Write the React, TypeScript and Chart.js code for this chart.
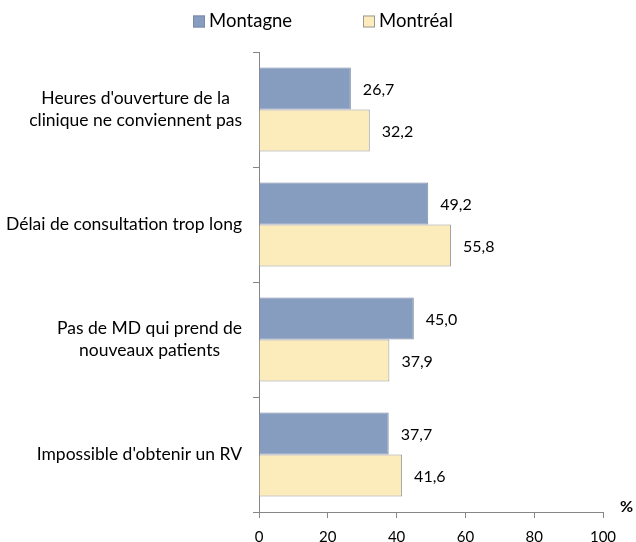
import { useEffect, useRef } from 'react';
import { Chart, registerables } from 'chart.js';

Chart.register(...registerables);

const categories = [
  "Heures d'ouverture de la clinique ne conviennent pas",
  'Délai de consultation trop long',
  'Pas de MD qui prend de nouveaux patients',
  "Impossible d'obtenir un RV",
];
const categoryLines = [
  ["Heures d'ouverture de la", 'clinique ne conviennent pas'],
  ['Délai de consultation trop long'],
  ['Pas de MD qui prend de', 'nouveaux patients'],
  ["Impossible d'obtenir un RV"],
];
const seriesNames = ['Montagne', 'Montréal'];
const montagne = [26.7, 49.2, 45.0, 37.7];
const montreal = [32.2, 55.8, 37.9, 41.6];
const xMin = 0;
const xMax = 100;
const xStep = 20;
const axisUnit = '%';

const FONT = 'Lato, "Open Sans", sans-serif';

const fmt = (v: number) => v.toFixed(1).replace('.', ',');

const labelsPlugin = {
  id: 'customLabels',
  afterDraw(chart: any) {
    const ctx = chart.ctx;
    const yScale = chart.scales.y;
    const xScale = chart.scales.x;
    ctx.save();
    // data labels
    ctx.font = `16px ${FONT}`;
    ctx.fillStyle = '#000';
    ctx.textBaseline = 'middle';
    ctx.textAlign = 'left';
    chart.data.datasets.forEach((ds: any, di: number) => {
      const meta = chart.getDatasetMeta(di);
      meta.data.forEach((el: any, i: number) => {
        ctx.fillText(fmt(ds.data[i]), el.x + 12, el.y + 1);
      });
    });
    // category labels (block right aligned, lines centered)
    ctx.font = `17.5px ${FONT}`;
    ctx.textAlign = 'center';
    const rightX = yScale.right - 17;
    const lh = 22;
    categoryLines.forEach((lines, i) => {
      const cy = yScale.getPixelForValue(i);
      const w = Math.max(...lines.map((l) => ctx.measureText(l).width));
      const cx = rightX - w / 2;
      const y0 = cy - ((lines.length - 1) * lh) / 2;
      lines.forEach((l, j) => ctx.fillText(l, cx, y0 + j * lh));
    });
    // unit label
    ctx.font = `bold 16px ${FONT}`;
    ctx.textAlign = 'right';
    ctx.fillText(axisUnit, chart.width - 3, xScale.top - 5);
    // legend
    ctx.font = `18.5px ${FONT}`;
    ctx.textAlign = 'left';
    const legendX = [193, 363];
    const ly = 21.5;
    chart.data.datasets.forEach((ds: any, di: number) => {
      const x = legendX[di];
      ctx.fillStyle = ds.backgroundColor;
      ctx.fillRect(x, ly - 6, 12, 12);
      ctx.strokeStyle = ds.borderColor;
      ctx.lineWidth = 1;
      ctx.strokeRect(x + 0.5, ly - 5.5, 11, 11);
      ctx.fillStyle = '#000';
      ctx.fillText(ds.label, x + 16, ly);
    });
    ctx.restore();
  },
};

export default function App() {
  const ref = useRef<HTMLCanvasElement>(null);
  useEffect(() => {
    if (!ref.current) return;
    const chart = new Chart(ref.current, {
      type: 'bar',
      data: {
        labels: categories,
        datasets: [
          {
            label: seriesNames[0],
            data: montagne,
            backgroundColor: '#879DBF',
            borderColor: '#7B8AA3',
            borderWidth: 1,
            categoryPercentage: 0.73,
            barPercentage: 1,
          },
          {
            label: seriesNames[1],
            data: montreal,
            backgroundColor: '#FCEBBB',
            borderColor: '#999999',
            borderWidth: 1,
            categoryPercentage: 0.73,
            barPercentage: 1,
          },
        ],
      },
      options: {
        indexAxis: 'y',
        animation: false,
        responsive: false,
        layout: { padding: { top: 52, right: 33, left: 0, bottom: 0 } },
        plugins: {
          legend: { display: false },
          tooltip: { enabled: false },
          title: { display: false },
        },
        scales: {
          x: {
            min: xMin,
            max: xMax,
            ticks: {
              stepSize: xStep,
              font: { family: FONT, size: 15 },
              color: '#000',
              padding: 10,
            },
            grid: { drawOnChartArea: false, drawTicks: true, tickLength: 6, color: '#868686' },
            border: { color: '#868686' },
            afterFit: (s: any) => {
              s.height = 30;
            },
          },
          y: {
            ticks: { display: false },
            grid: { drawOnChartArea: false, offset: true, tickLength: 6, color: '#868686' },
            border: { color: '#868686' },
            afterFit: (s: any) => {
              s.width = 259;
            },
          },
        },
      },
      plugins: [labelsPlugin],
    });
    return () => chart.destroy();
  }, []);
  return (
    <div style={{ position: 'fixed', left: 0, top: 0, width: 636, height: 542, background: '#fff' }}>
      <canvas ref={ref} width={636} height={542} />
    </div>
  );
}
